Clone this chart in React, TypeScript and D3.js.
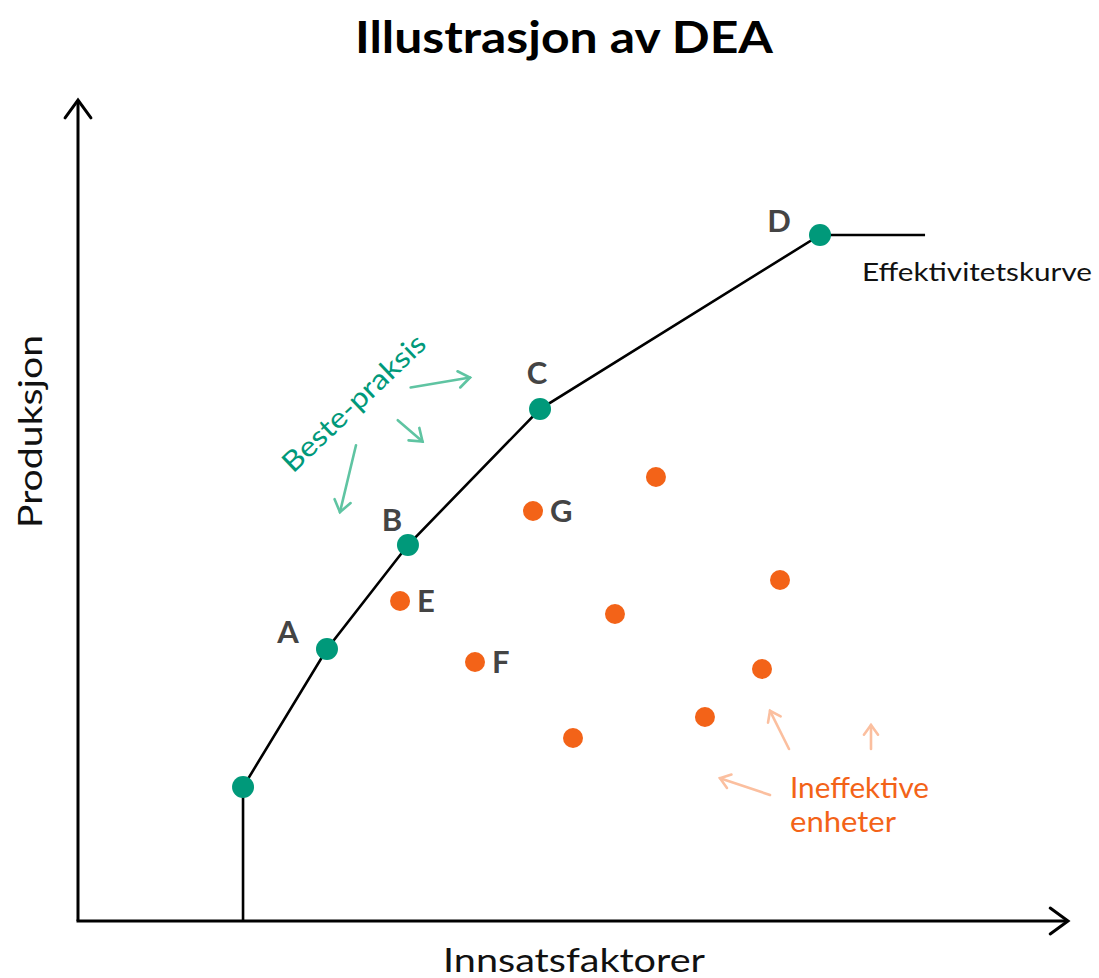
import React from "react";
import * as d3 from "d3";

// Frontier (efficiency curve) vertices: [x, y] in abstract units
const frontierX = [16.67, 16.67, 25.15, 33.33, 46.67, 74.95, 85.56];
const frontierY = [0, 16.32, 33.13, 45.8, 62.36, 83.56, 83.56];
// Efficient units (green dots)
const effX = [16.67, 25.15, 33.33, 46.67, 74.95];
const effY = [16.32, 33.13, 45.8, 62.36, 83.56];
const effLabels = ["", "A", "B", "C", "D"];
// Inefficient units (orange dots)
const ineffX = [45.96, 58.38, 32.53, 54.24, 70.91, 40.1, 69.09, 63.33, 50.0];
const ineffY = [49.94, 54.08, 38.98, 37.39, 41.53, 31.55, 30.69, 24.85, 22.29];
const ineffLabels = ["G", "", "E", "", "", "F", "", "", ""];
// Annotation arrows [x1,y1,x2,y2]
const greenArrows = [
  [33.6, 64.98, 39.6, 66.2],
  [32.3, 61.0, 34.8, 58.4],
  [28.08, 57.95, 26.46, 49.8],
];
const orangeArrows = [
  [69.9, 15.35, 64.85, 17.4],
  [71.82, 20.95, 69.9, 25.6],
  [80.1, 20.95, 80.1, 23.87],
];

const W = 1099;
const H = 978;
const x = d3.scaleLinear().domain([0, 100]).range([78, 1068]);
const y = d3.scaleLinear().domain([0, 100]).range([921, 100]);

const GREEN = "#00997a";
const ORANGE = "#f36318";
const LGREEN = "#5fc4a2";
const LORANGE = "#fbbf9f";
const FONT = "Lato, 'DejaVu Sans', sans-serif";

function arrowHead(x2: number, y2: number, x1: number, y1: number, len: number) {
  const ang = Math.atan2(y2 - y1, x2 - x1);
  const a = Math.PI / 5;
  const p1 = [x2 - len * Math.cos(ang - a), y2 - len * Math.sin(ang - a)];
  const p2 = [x2 - len * Math.cos(ang + a), y2 - len * Math.sin(ang + a)];
  return `M${p1[0]},${p1[1]}L${x2},${y2}L${p2[0]},${p2[1]}`;
}

export default function App() {
  const line = d3
    .line<number>()
    .x((_, i) => x(frontierX[i]))
    .y((_, i) => y(frontierY[i]));
  const fPath = line(frontierX) || "";

  return (
    <div style={{ position: "absolute", left: 0, top: 0 }}>
      <svg width={W} height={H} style={{ display: "block", background: "#fff" }}>
        <text x={355} y={53} fontFamily={FONT} fontWeight={700} fontSize={44} textLength={418} lengthAdjust="spacingAndGlyphs">
          Illustrasjon av DEA
        </text>
        {/* axes */}
        <line x1={x(0)} y1={y(0)} x2={x(0)} y2={y(100)} stroke="#000" strokeWidth={3} />
        <path d={arrowHead(x(0), y(100), x(0), y(0), 22)} fill="none" stroke="#000" strokeWidth={3} strokeLinecap="round" strokeLinejoin="miter" />
        <line x1={x(0) - 1.5} y1={y(0)} x2={x(100)} y2={y(0)} stroke="#000" strokeWidth={3} />
        <path d={arrowHead(x(100), y(0), x(0), y(0), 22)} fill="none" stroke="#000" strokeWidth={3} strokeLinecap="round" />
        <text x={443} y={972} fontFamily={FONT} fontSize={33} fill="#111" textLength={262} lengthAdjust="spacingAndGlyphs">
          Innsatsfaktorer
        </text>
        <text transform="translate(42,528) rotate(-90)" fontFamily={FONT} fontSize={33} fill="#111" textLength={193} lengthAdjust="spacingAndGlyphs">
          Produksjon
        </text>
        {/* frontier */}
        <path d={fPath} fill="none" stroke="#000" strokeWidth={2.6} />
        <text x={862} y={281} fontFamily={FONT} fontSize={25} fill="#111" textLength={230} lengthAdjust="spacingAndGlyphs">
          Effektivitetskurve
        </text>
        {/* inefficient */}
        {ineffX.map((v, i) => (
          <circle key={"o" + i} cx={x(v)} cy={y(ineffY[i])} r={10} fill={ORANGE} />
        ))}
        {ineffX.map((v, i) =>
          ineffLabels[i] ? (
            <text key={"ol" + i} x={x(v) + 17} y={y(ineffY[i]) + 11} fontFamily={FONT} fontWeight={700} fontSize={31} fill="#444">
              {ineffLabels[i]}
            </text>
          ) : null
        )}
        {/* efficient */}
        {effX.map((v, i) => (
          <circle key={"g" + i} cx={x(v)} cy={y(effY[i])} r={11} fill={GREEN} />
        ))}
        {effX.map((v, i) => {
          if (!effLabels[i]) return null;
          const cx = x(v);
          const cy = y(effY[i]);
          const pos: Record<string, [number, number]> = {
            A: [-39, -6],
            B: [-16, -14],
            C: [-3, -25],
            D: [-41, -3],
          };
          const [dx, dy] = pos[effLabels[i]];
          return (
            <text key={"gl" + i} x={cx + dx} y={cy + dy} textAnchor="middle" fontFamily={FONT} fontWeight={700} fontSize={31} fill="#444">
              {effLabels[i]}
            </text>
          );
        })}
        {/* annotations */}
        <text transform="translate(293,474) rotate(-43.5)" fontFamily={FONT} fontSize={28} fill={GREEN} textLength={186} lengthAdjust="spacingAndGlyphs">
          Beste-praksis
        </text>
        {greenArrows.map((a, i) => (
          <g key={"ga" + i} stroke={LGREEN} strokeWidth={2.6} fill="none" strokeLinecap="round">
            <line x1={x(a[0])} y1={y(a[1])} x2={x(a[2])} y2={y(a[3])} />
            <path d={arrowHead(x(a[2]), y(a[3]), x(a[0]), y(a[1]), 14)} />
          </g>
        ))}
        {orangeArrows.map((a, i) => (
          <g key={"oa" + i} stroke={LORANGE} strokeWidth={2.6} fill="none" strokeLinecap="round">
            <line x1={x(a[0])} y1={y(a[1])} x2={x(a[2])} y2={y(a[3])} />
            <path d={arrowHead(x(a[2]), y(a[3]), x(a[0]), y(a[1]), 12)} />
          </g>
        ))}
        <text x={790} y={798} fontFamily={FONT} fontSize={28} fill={ORANGE} textLength={139} lengthAdjust="spacingAndGlyphs">
          Ineffektive
        </text>
        <text x={790} y={832} fontFamily={FONT} fontSize={28} fill={ORANGE} textLength={106} lengthAdjust="spacingAndGlyphs">
          enheter
        </text>
      </svg>
    </div>
  );
}
